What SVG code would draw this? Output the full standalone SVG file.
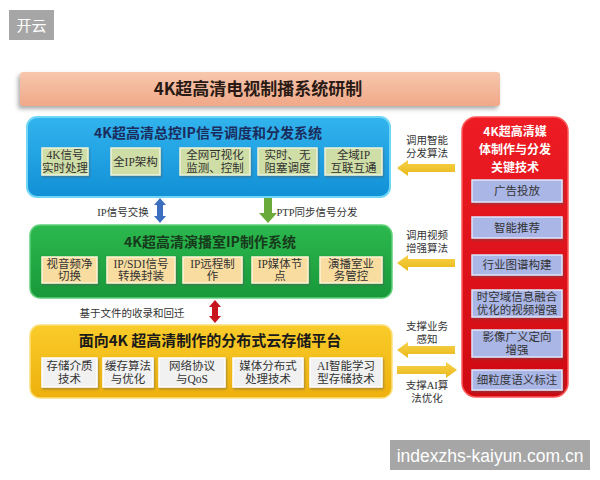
<svg xmlns="http://www.w3.org/2000/svg" width="600" height="480" viewBox="0 0 600 480">
<defs>
<linearGradient id="gTitle" x1="0" y1="0" x2="0" y2="1"><stop offset="0" stop-color="#f7c7ae"/><stop offset="1" stop-color="#f0a888"/></linearGradient>
<linearGradient id="gBlue" x1="0" y1="0" x2="0" y2="1"><stop offset="0" stop-color="#32b4ee"/><stop offset="1" stop-color="#1190d6"/></linearGradient>
<linearGradient id="gGreen" x1="0" y1="0" x2="0" y2="1"><stop offset="0" stop-color="#2cb94e"/><stop offset="1" stop-color="#18983a"/></linearGradient>
<linearGradient id="gYellow" x1="0" y1="0" x2="0" y2="1"><stop offset="0" stop-color="#f9cc2a"/><stop offset="1" stop-color="#eeb00c"/></linearGradient>
<linearGradient id="gRed" x1="0" y1="0" x2="0" y2="1"><stop offset="0" stop-color="#ee1c24"/><stop offset="1" stop-color="#cf0a12"/></linearGradient>
<linearGradient id="gArr" x1="0" y1="0" x2="0" y2="1"><stop offset="0" stop-color="#f8d24a"/><stop offset="1" stop-color="#e8b818"/></linearGradient>
<filter id="sh" x="-10%" y="-20%" width="120%" height="150%"><feDropShadow dx="-2" dy="3" stdDeviation="2" flood-color="#777" flood-opacity="0.6"/></filter>
<filter id="sh2" x="-10%" y="-20%" width="130%" height="150%"><feDropShadow dx="1" dy="1.5" stdDeviation="1" flood-color="#555" flood-opacity="0.5"/></filter>
</defs>
<style>
.cjk{font-family:"Noto Sans CJK SC","Liberation Sans",sans-serif;}
.ser{font-family:"Liberation Serif","Noto Sans CJK SC",serif;}
.ttl{font-weight:bold;text-anchor:middle;}
.in{font-size:11.5px;fill:#333;text-anchor:middle;}
.lbl{font-size:10.5px;fill:#333;text-anchor:middle;}
.bIn{fill:#cfdea6;stroke:#eef4dc;stroke-width:1.5;}
.gIn{fill:#f9dda0;stroke:#fff4d8;stroke-width:1.5;}
.yIn{fill:#f1f1f1;stroke:#fff;stroke-width:1.5;}
.rIn{fill:#aab6e6;stroke:#dfe5fa;stroke-width:1.5;}
.arr{fill:url(#gArr);}
</style>
<rect x="0" y="0" width="600" height="480" fill="#ffffff"/>

<g id="tag-kaiyun">
<rect x="9" y="10" width="45" height="30" fill="#a6a6a6"/>
<text x="31.5" y="31" class="cjk" font-size="15" fill="#fff" text-anchor="middle">开云</text>
</g>

<g id="title">
<rect x="20" y="72" width="480" height="34" rx="3" fill="url(#gTitle)" filter="url(#sh)"/>
<text x="258" y="95" class="cjk ttl" font-size="17" fill="#2a1a14">4K超高清电视制播系统研制</text>
</g>

<g id="blue-system">
<rect x="27" y="117" width="363" height="80" rx="10" fill="url(#gBlue)" stroke="#6fd6f8" stroke-width="2"/>
<text x="208" y="138" class="cjk ttl" font-size="14" fill="#1b2d5c">4K超高清总控IP信号调度和分发系统</text>
<g filter="url(#sh2)">
<rect x="42" y="148" width="46" height="27" class="bIn"/>
<rect x="111" y="148" width="49" height="27" class="bIn"/>
<rect x="180" y="148" width="70" height="27" class="bIn"/>
<rect x="258" y="148" width="59" height="27" class="bIn"/>
<rect x="325" y="148" width="57" height="27" class="bIn"/>
</g>
<text class="ser in"><tspan x="65" y="159">4K信号</tspan><tspan x="65" y="172">实时处理</tspan></text>
<text class="ser in" x="135.5" y="166">全IP架构</text>
<text class="ser in"><tspan x="215" y="159">全网可视化</tspan><tspan x="215" y="172">监测、控制</tspan></text>
<text class="ser in"><tspan x="287.5" y="159">实时、无</tspan><tspan x="287.5" y="172">阻塞调度</tspan></text>
<text class="ser in"><tspan x="353.5" y="159">全域IP</tspan><tspan x="353.5" y="172">互联互通</tspan></text>
</g>

<g id="green-system">
<rect x="30" y="225" width="362" height="73" rx="10" fill="url(#gGreen)" stroke="#5fd07a" stroke-width="1.5"/>
<text x="210" y="247" class="cjk ttl" font-size="14" fill="#173a1c">4K超高清演播室IP制作系统</text>
<g filter="url(#sh2)">
<rect x="42" y="257" width="55" height="26" class="gIn"/>
<rect x="107" y="257" width="68" height="26" class="gIn"/>
<rect x="183" y="257" width="59" height="26" class="gIn"/>
<rect x="252" y="257" width="56" height="26" class="gIn"/>
<rect x="320" y="257" width="62" height="26" class="gIn"/>
</g>
<text class="ser in"><tspan x="69.5" y="268">视音频净</tspan><tspan x="69.5" y="280">切换</tspan></text>
<text class="ser in"><tspan x="141" y="268">IP/SDI信号</tspan><tspan x="141" y="280">转换封装</tspan></text>
<text class="ser in"><tspan x="212.5" y="268">IP远程制</tspan><tspan x="212.5" y="280">作</tspan></text>
<text class="ser in"><tspan x="280" y="268">IP媒体节</tspan><tspan x="280" y="280">点</tspan></text>
<text class="ser in"><tspan x="351" y="268">演播室业</tspan><tspan x="351" y="280">务管控</tspan></text>
</g>

<g id="yellow-system">
<rect x="30" y="325" width="362" height="73" rx="10" fill="url(#gYellow)" stroke="#fbe07a" stroke-width="1.5"/>
<text x="210" y="346" class="cjk ttl" font-size="15" fill="#1a1a1a">面向4K 超高清制作的分布式云存储平台</text>
<g filter="url(#sh2)">
<rect x="42" y="358" width="55" height="29" class="yIn"/>
<rect x="103" y="358" width="50" height="29" class="yIn"/>
<rect x="159" y="358" width="66" height="29" class="yIn"/>
<rect x="233" y="358" width="70" height="29" class="yIn"/>
<rect x="310" y="358" width="72" height="29" class="yIn"/>
</g>
<text class="ser in"><tspan x="69.5" y="370">存储介质</tspan><tspan x="69.5" y="383">技术</tspan></text>
<text class="ser in"><tspan x="128" y="370">缓存算法</tspan><tspan x="128" y="383">与优化</tspan></text>
<text class="ser in"><tspan x="192" y="370">网络协议</tspan><tspan x="192" y="383">与QoS</tspan></text>
<text class="ser in"><tspan x="268" y="370">媒体分布式</tspan><tspan x="268" y="383">处理技术</tspan></text>
<text class="ser in"><tspan x="346" y="370">AI智能学习</tspan><tspan x="346" y="383">型存储技术</tspan></text>
</g>

<g id="red-system">
<rect x="462" y="117" width="106" height="280" rx="14" fill="url(#gRed)" stroke="#ff5a5a" stroke-width="1.5"/>
<text class="cjk ttl" font-size="12" fill="#fff" x="515" y="136">4K超高清媒</text>
<text class="cjk ttl" font-size="12" fill="#fff" x="515" y="154">体制作与分发</text>
<text class="cjk ttl" font-size="12" fill="#fff" x="515" y="172">关键技术</text>
<g filter="url(#sh2)">
<rect x="472" y="180" width="90" height="22" class="rIn"/>
<rect x="472" y="217" width="90" height="21" class="rIn"/>
<rect x="472" y="255" width="90" height="20" class="rIn"/>
<rect x="472" y="290" width="90" height="27" class="rIn"/>
<rect x="472" y="330" width="90" height="27" class="rIn"/>
<rect x="472" y="370" width="90" height="20" class="rIn"/>
</g>
<text class="ser in" font-size="11" x="517" y="195">广告投放</text>
<text class="ser in" font-size="11" x="517" y="231.5">智能推荐</text>
<text class="ser in" font-size="11" x="517" y="269">行业图谱构建</text>
<text class="ser in" font-size="11"><tspan x="517" y="301">时空域信息融合</tspan><tspan x="517" y="314">优化的视频增强</tspan></text>
<text class="ser in" font-size="11"><tspan x="517" y="341">影像广义定向</tspan><tspan x="517" y="354">增强</tspan></text>
<text class="ser in" font-size="11" x="517" y="384">细粒度语义标注</text>
</g>

<g id="connectors">
<path d="M160 198 L166 205 L163 205 L163 216 L166 216 L160 223 L154 216 L157 216 L157 205 L154 205 Z" fill="#3d6fc0"/>
<path d="M264 198 L272 198 L272 213 L277 213 L268 223 L259 213 L264 213 Z" fill="#6aaa3a"/>
<path d="M215 300 L221 307 L218 307 L218 316 L221 316 L215 323 L209 316 L212 316 L212 307 L209 307 Z" fill="#c8141c"/>
<path class="arr" d="M397 168 L408 160 L408 164 L455 164 L455 172 L408 172 L408 176 Z"/>
<path class="arr" d="M397 263 L408 255 L408 259 L455 259 L455 267 L408 267 L408 271 Z"/>
<path class="arr" d="M397 350 L408 342 L408 346 L455 346 L455 354 L408 354 L408 358 Z"/>
<path class="arr" d="M457 370 L446 362 L446 366 L397 366 L397 374 L446 374 L446 378 Z"/>
</g>

<g id="labels">
<text class="ser lbl" x="123" y="216">IP信号交换</text>
<text class="ser lbl" x="317" y="216">PTP同步信号分发</text>
<text class="ser lbl" x="132" y="317">基于文件的收录和回迁</text>
<text class="ser lbl"><tspan x="427" y="144">调用智能</tspan><tspan x="427" y="157">分发算法</tspan></text>
<text class="ser lbl"><tspan x="427" y="239">调用视频</tspan><tspan x="427" y="252">增强算法</tspan></text>
<text class="ser lbl"><tspan x="427" y="330">支撑业务</tspan><tspan x="427" y="343">感知</tspan></text>
<text class="ser lbl"><tspan x="427" y="389">支撑AI算</tspan><tspan x="427" y="402">法优化</tspan></text>
</g>

<g id="watermark">
<rect x="390" y="440" width="200" height="30" fill="#a6a6a6"/>
<text x="490" y="462" font-family="Liberation Sans, sans-serif" font-size="17.5" fill="#fff" text-anchor="middle">indexzhs-kaiyun.com.cn</text>
</g>
</svg>
